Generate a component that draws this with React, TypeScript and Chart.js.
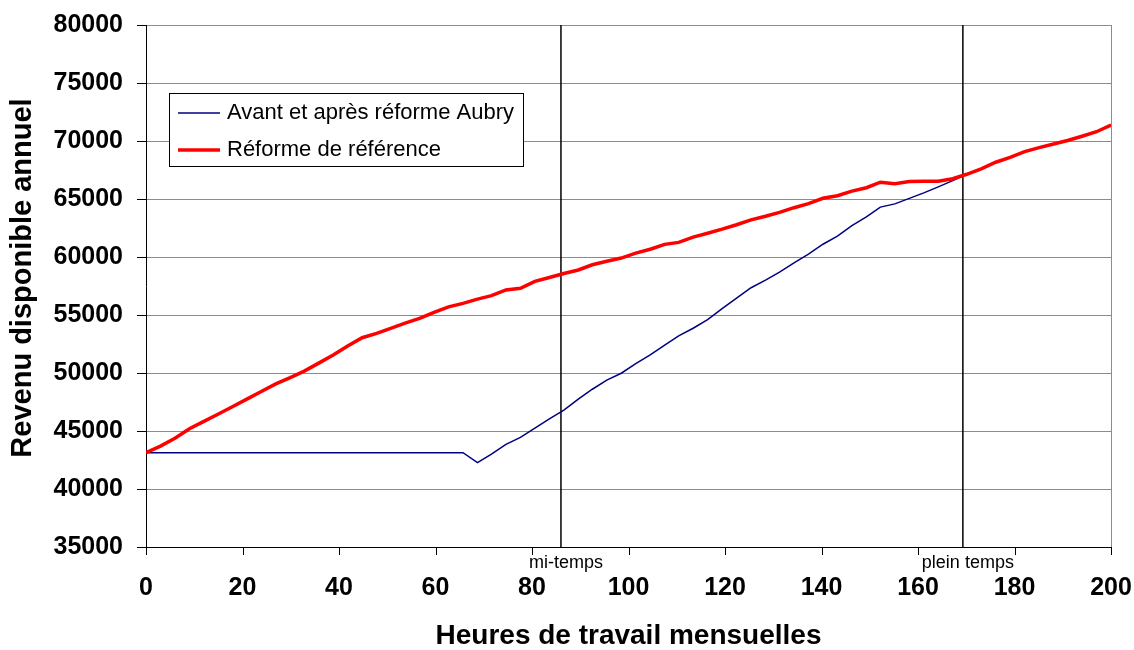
import React, { useEffect, useRef } from "react";
import { Chart, registerables } from "chart.js";

Chart.register(...registerables);

const hours = [0, 3.0, 6.0, 9.0, 11.9, 14.9, 17.9, 20.9, 23.9, 26.9, 29.9, 32.8, 35.8, 38.8, 41.8, 44.8, 47.8, 50.7, 53.7, 56.7, 59.7, 62.7, 65.7, 68.7, 71.6, 74.6, 77.6, 80.6, 83.6, 86.6, 89.6, 92.5, 95.5, 98.5, 101.5, 104.5, 107.5, 110.4, 113.4, 116.4, 119.4, 122.4, 125.4, 128.4, 131.3, 134.3, 137.3, 140.3, 143.3, 146.3, 149.3, 152.2, 155.2, 158.2, 161.2, 164.2, 167.2, 170.1, 173.1, 176.1, 179.1, 182.1, 185.1, 188.1, 191.0, 194.0, 197.0, 200.0];

const aubry = [
  43130, 43130, 43130, 43130, 43130, 43130, 43130, 43130, 43130, 43130,
  43130, 43130, 43130, 43130, 43130, 43130, 43130, 43130, 43130, 43130,
  43130, 43130, 43130, 42270, 43000, 43850, 44450, 45250, 46050, 46800,
  47750, 48600, 49380, 49980, 50800, 51560, 52400, 53200, 53860, 54600,
  55550, 56450, 57350, 58000, 58700, 59500, 60250, 61100, 61800, 62700,
  63450, 64300, 64580, 65050, 65530, 66050, 66580, 67130, 67600, 68170,
  68590, 69080, 69430, 69740, 70040, 70410, 70800, 71380,
];

const reference = [
  43130, 43700, 44370, 45200, 45810, 46440, 47090, 47750, 48410, 49060,
  49610, 50160, 50850, 51550, 52330, 53040, 53420, 53850, 54300, 54700,
  55230, 55700, 56000, 56370, 56670, 57160, 57300, 57900, 58230, 58580,
  58880, 59330, 59630, 59910, 60330, 60670, 61090, 61260, 61720, 62050,
  62400, 62780, 63200, 63510, 63850, 64250, 64600, 65060, 65280, 65680,
  65970, 66450, 66320, 66500, 66530, 66530, 66750, 67130, 67600, 68170,
  68590, 69080, 69430, 69740, 70040, 70410, 70800, 71380,
];

const seriesLabels = ["Avant et après réforme Aubry", "Réforme de référence"];
const markerHours = [86, 169.3];
const markerLabels = ["mi-temps", "plein temps"];
const xTitle = "Heures de travail mensuelles";
const yTitle = "Revenu disponible annuel";

const FONT = '"Liberation Sans", Arial, sans-serif';
const BLUE = "#000080";
const RED = "#ff0000";
const GRID = "#8c8c8c";

const decorPlugin = {
  id: "decor",
  beforeDatasetsDraw(chart: any) {
    const { ctx, chartArea, scales } = chart;
    ctx.save();
    ctx.strokeStyle = GRID;
    ctx.lineWidth = 1;
    ctx.beginPath();
    ctx.moveTo(chartArea.right + 0.5, chartArea.top);
    ctx.lineTo(chartArea.right + 0.5, chartArea.bottom);
    ctx.stroke();
    // tick marks
    ctx.strokeStyle = "#000";
    ctx.lineWidth = 1;
    ctx.beginPath();
    scales.y.ticks.forEach((t: any) => {
      const y = Math.round(scales.y.getPixelForValue(t.value)) + 0.5;
      ctx.moveTo(chartArea.left - 9, y);
      ctx.lineTo(chartArea.left, y);
    });
    scales.x.ticks.forEach((t: any) => {
      const x = Math.round(scales.x.getPixelForValue(t.value)) + 0.5;
      ctx.moveTo(x, chartArea.bottom);
      ctx.lineTo(x, chartArea.bottom + 8);
    });
    ctx.stroke();
    ctx.lineWidth = 1.5;
    markerHours.forEach((h, i) => {
      const x = scales.x.getPixelForValue(h);
      ctx.beginPath();
      ctx.moveTo(x, chartArea.top);
      ctx.lineTo(x, chartArea.bottom);
      ctx.stroke();
      ctx.fillStyle = "#000";
      ctx.font = `18px ${FONT}`;
      ctx.textAlign = "center";
      ctx.textBaseline = "middle";
      ctx.fillText(markerLabels[i], x + 5, chartArea.bottom + 16);
    });
    ctx.save();
    ctx.translate(23, 278);
    ctx.rotate(-Math.PI / 2);
    ctx.font = `bold 29px ${FONT}`;
    ctx.fillStyle = "#000";
    ctx.textAlign = "center";
    ctx.textBaseline = "middle";
    ctx.fillText(yTitle, 0, 0);
    ctx.restore();
    ctx.restore();
  },
  afterDraw(chart: any) {
    const { ctx } = chart;
    ctx.save();
    const bx = 169, by = 93, bw = 354, bh = 73;
    ctx.fillStyle = "#fff";
    ctx.fillRect(bx, by, bw, bh);
    ctx.strokeStyle = "#000";
    ctx.lineWidth = 1;
    ctx.strokeRect(bx + 0.5, by + 0.5, bw, bh);
    const rows = [
      { y: 113, color: BLUE, w: 1.5 },
      { y: 150, color: RED, w: 3.5 },
    ];
    ctx.font = `22px ${FONT}`;
    ctx.textAlign = "left";
    ctx.textBaseline = "middle";
    rows.forEach((r, i) => {
      ctx.strokeStyle = r.color;
      ctx.lineWidth = r.w;
      ctx.beginPath();
      ctx.moveTo(178, r.y);
      ctx.lineTo(220, r.y);
      ctx.stroke();
      ctx.fillStyle = "#000";
      ctx.fillText(seriesLabels[i], 227, r.y);
    });
    ctx.restore();
  },
};

export default function App() {
  const ref = useRef<HTMLCanvasElement | null>(null);
  useEffect(() => {
    if (!ref.current) return;
    const chart = new Chart(ref.current, {
      type: "line",
      data: {
        datasets: [
          {
            label: seriesLabels[0],
            data: hours.map((h, i) => ({ x: h, y: aubry[i] })),
            borderColor: BLUE,
            backgroundColor: BLUE,
            borderWidth: 1.5,
            pointRadius: 0,
            tension: 0,
            order: 2,
          },
          {
            label: seriesLabels[1],
            data: hours.map((h, i) => ({ x: h, y: reference[i] })),
            borderColor: RED,
            backgroundColor: RED,
            borderWidth: 3.5,
            pointRadius: 0,
            tension: 0,
            order: 1,
          },
        ],
      },
      options: {
        responsive: false,
        animation: false,
        devicePixelRatio: 1,
        layout: { padding: { top: 25, right: 23, left: 0, bottom: 0 } },
        plugins: { legend: { display: false }, tooltip: { enabled: false } },
        scales: {
          x: {
            type: "linear",
            min: 0,
            max: 200,
            afterFit: (s: any) => { s.height = 103; },
            ticks: {
              stepSize: 20,
              color: "#000",
              padding: 2,
              font: { family: FONT, size: 25, weight: "bold" },
              maxRotation: 0,
              callback: (v: any) => String(v),
            },
            grid: { drawOnChartArea: false, tickLength: 24, tickColor: "rgba(0,0,0,0)", color: "rgba(0,0,0,0)" },
            border: { color: "#000", width: 1 },
            title: {
              display: true,
              text: xTitle,
              color: "#000",
              font: { family: FONT, size: 28, weight: "bold", lineHeight: 1 },
              padding: { top: 0, bottom: 0 },
            },
          },
          y: {
            min: 35000,
            max: 80000,
            afterFit: (s: any) => { s.width = 146; },
            ticks: {
              stepSize: 5000,
              color: "#000",
              padding: 2,
              font: { family: FONT, size: 25, weight: "bold" },
              callback: (v: any) => String(v),
            },
            grid: { color: GRID, tickLength: 21, tickColor: "rgba(0,0,0,0)", lineWidth: 1 },
            border: { color: "#000", width: 1 },
          },
        },
      },
      plugins: [decorPlugin],
    } as any);
    return () => chart.destroy();
  }, []);
  return (
    <div style={{ position: "fixed", left: 0, top: 0, width: 1134, height: 650, background: "#fff" }}>
      <canvas ref={ref} width={1134} height={650} style={{ display: "block" }} />
    </div>
  );
}
